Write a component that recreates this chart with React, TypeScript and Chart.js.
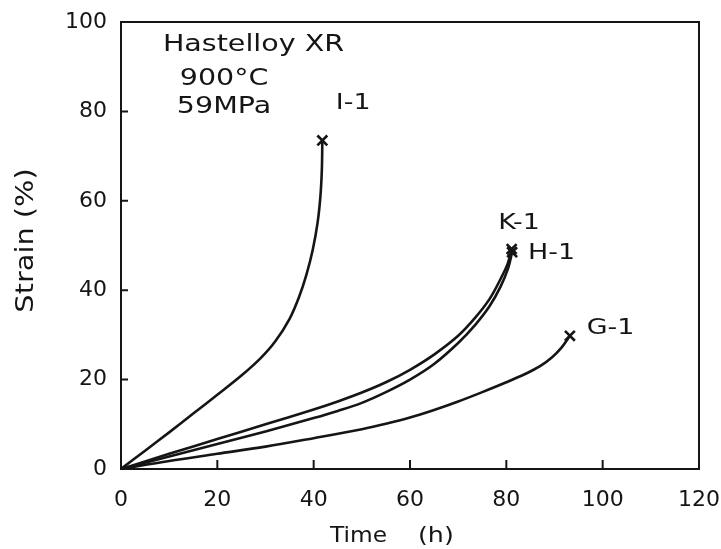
import React, { useEffect, useRef } from 'react';
import { Chart, registerables } from 'chart.js';

Chart.register(...registerables);

// ---- data ----
const i1Time = [0, 5, 10, 15, 20, 25, 29, 32, 35, 37, 38.5, 39.8, 40.8, 41.4, 41.7, 41.8];
const i1Strain = [0, 4.1, 8.2, 12.4, 16.6, 20.9, 24.8, 28.5, 33.6, 38.6, 43.5, 49, 55, 61, 67, 73.5];

const k1Time = [0, 10, 20, 30, 40, 45, 50, 55, 60, 65, 70, 73.5, 76.5, 78.8, 80.3, 81.1];
const k1Strain = [0, 3.4, 6.7, 10, 13.3, 15.1, 17.1, 19.4, 22.2, 25.6, 29.8, 33.8, 38, 42.5, 46, 49.2];

const h1Time = [0, 10, 20, 30, 40, 45, 50, 55, 60, 65, 70, 73.5, 76.5, 78.8, 80.4, 81.2];
const h1Strain = [0, 2.8, 5.6, 8.4, 11.4, 13.0, 14.8, 17.2, 20, 23.5, 28.2, 32.2, 36.4, 40.8, 45, 48.5];

const g1Time = [0, 10, 20, 30, 40, 50, 55, 60, 65, 70, 75, 80, 84, 87, 89.5, 91.5, 93.2];
const g1Strain = [0, 1.8, 3.4, 5.0, 6.9, 8.9, 10.1, 11.5, 13.2, 15.1, 17.2, 19.4, 21.3, 23.0, 25, 27.2, 29.8];

const xTickValues = [0, 20, 40, 60, 80, 100, 120];
const yTickValues = [0, 20, 40, 60, 80, 100];

const curveLabels = [
  { text: 'I-1', t: 44.6, s: 81.7 },
  { text: 'K-1', t: 78.3, s: 55 },
  { text: 'H-1', t: 84.5, s: 48.3 },
  { text: 'G-1', t: 96.7, s: 31.5 },
];
const noteLines = [
  { text: 'Hastelloy XR', t: 8.7, s: 94.9 },
  { text: '900°C', t: 12.2, s: 87.2 },
  { text: '59MPa', t: 11.6, s: 81 },
];
const xTitleWord = 'Time';
const xTitleUnit = '(h)';
const yTitle = 'Strain (%)';

const INK = '#151515';
const FONT = '"DejaVu Sans", sans-serif';

function toPoints(xs: number[], ys: number[]) {
  return xs.map((x, i) => ({ x, y: ys[i] }));
}

function curve(label: string, xs: number[], ys: number[]) {
  const last = xs.length - 1;
  return {
    label,
    data: toPoints(xs, ys),
    borderColor: INK,
    backgroundColor: INK,
    borderWidth: 2.6,
    tension: 0.35,
    pointStyle: 'crossRot' as const,
    pointRadius: (ctx: any) => (ctx.dataIndex === last ? 7 : 0),
    pointBorderWidth: 2.6,
    pointBorderColor: INK,
    fill: false,
  };
}

function wideText(ctx: CanvasRenderingContext2D, text: string, x: number, y: number, sx: number) {
  ctx.save();
  ctx.translate(x, y);
  ctx.scale(sx, 1);
  ctx.fillText(text, 0, 0);
  ctx.restore();
}

const decorPlugin = {
  id: 'decor',
  afterDatasetsDraw(chart: any) {
    const { ctx, chartArea: a, scales } = chart;
    const xs = scales.x;
    const ys = scales.y;
    ctx.save();
    ctx.strokeStyle = INK;
    ctx.lineWidth = 2;
    ctx.strokeRect(a.left, a.top, a.right - a.left, a.bottom - a.top);
    ctx.beginPath();
    xTickValues.forEach((v) => {
      if (v === xs.min || v === xs.max) return;
      const px = xs.getPixelForValue(v);
      ctx.moveTo(px, a.bottom);
      ctx.lineTo(px, a.bottom - 9);
    });
    yTickValues.forEach((v) => {
      if (v === ys.min || v === ys.max) return;
      const py = ys.getPixelForValue(v);
      ctx.moveTo(a.left, py);
      ctx.lineTo(a.left + 7, py);
    });
    ctx.stroke();

    ctx.fillStyle = INK;
    ctx.textBaseline = 'middle';
    ctx.textAlign = 'left';
    ctx.font = `21px ${FONT}`;
    curveLabels.forEach((l) => {
      wideText(ctx, l.text, xs.getPixelForValue(l.t), ys.getPixelForValue(l.s), 1.28);
    });
    ctx.font = `23px ${FONT}`;
    noteLines.forEach((l) => {
      wideText(ctx, l.text, xs.getPixelForValue(l.t), ys.getPixelForValue(l.s), 1.24);
    });

    // axis titles
    ctx.font = `22px ${FONT}`;
    wideText(ctx, xTitleWord, a.left + 209, a.bottom + 67, 1.06);
    wideText(ctx, xTitleUnit, a.left + 297, a.bottom + 67, 1.15);
    ctx.font = `24px ${FONT}`;
    ctx.textAlign = 'center';
    ctx.translate(a.left - 94, (a.top + a.bottom) / 2 - 5);
    ctx.rotate(-Math.PI / 2);
    ctx.scale(1.2, 1);
    ctx.fillText(yTitle, 0, 0);
    ctx.restore();
  },
};

export default function App() {
  const ref = useRef<HTMLCanvasElement | null>(null);
  useEffect(() => {
    document.body.style.margin = '0';
    const canvas = ref.current!;
    const chart = new Chart(canvas, {
      type: 'line',
      data: {
        datasets: [
          curve('I-1', i1Time, i1Strain),
          curve('K-1', k1Time, k1Strain),
          curve('H-1', h1Time, h1Strain),
          curve('G-1', g1Time, g1Strain),
        ],
      },
      options: {
        responsive: false,
        animation: false,
        devicePixelRatio: 1,
        layout: { padding: { left: 0, top: 22, right: 22, bottom: 0 } },
        plugins: { legend: { display: false }, tooltip: { enabled: false } },
        scales: {
          x: {
            type: 'linear',
            min: 0,
            max: 120,
            afterBuildTicks: (s: any) => {
              s.ticks = xTickValues.map((value) => ({ value }));
            },
            afterFit: (s: any) => {
              s.height = 80;
              s.paddingLeft = 0;
              s.paddingRight = 0;
            },
            grid: { display: false, drawTicks: false },
            border: { display: false },
            ticks: { color: INK, font: { family: FONT, size: 22 }, padding: 18, maxRotation: 0 },
          },
          y: {
            type: 'linear',
            min: 0,
            max: 100,
            afterBuildTicks: (s: any) => {
              s.ticks = yTickValues.map((value) => ({ value }));
            },
            afterFit: (s: any) => {
              s.width = 121;
              s.paddingTop = 0;
              s.paddingBottom = 0;
            },
            grid: { display: false, drawTicks: false },
            border: { display: false },
            ticks: { color: INK, font: { family: FONT, size: 22 }, padding: 14 },
          },
        },
      },
      plugins: [decorPlugin],
    });
    return () => chart.destroy();
  }, []);
  return <canvas ref={ref} width={721} height={549} style={{ display: 'block' }} />;
}
